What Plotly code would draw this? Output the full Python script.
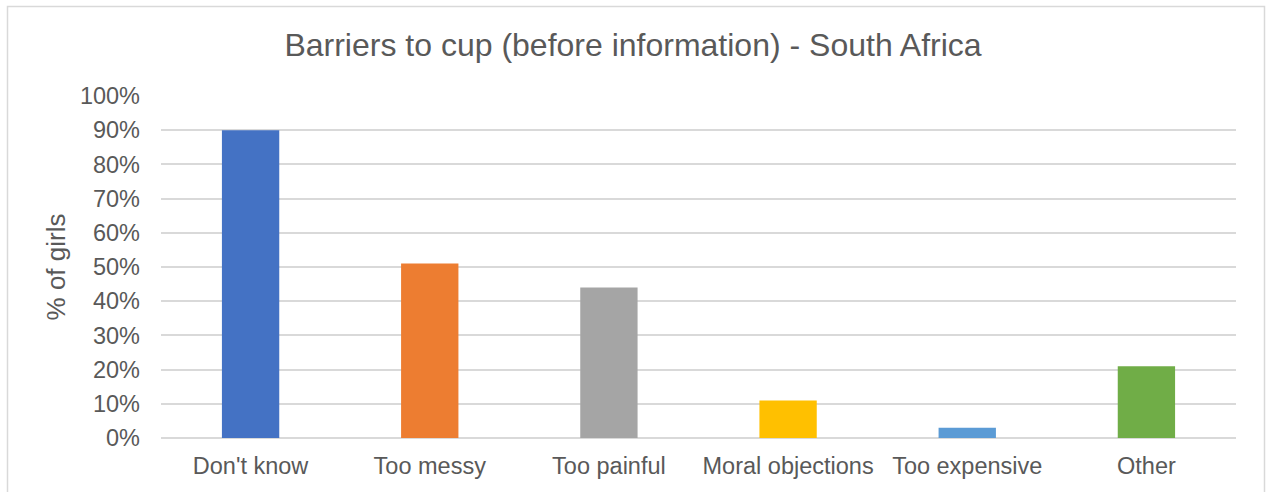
import plotly.graph_objects as go

# Survey results: reasons girls gave for not using a menstrual cup
categories = ["Don't know", "Too messy", "Too painful", "Moral objections", "Too expensive", "Other"]
share_of_girls = [0.90, 0.51, 0.44, 0.11, 0.03, 0.21]
bar_colors = ["#4472C4", "#ED7D31", "#A5A5A5", "#FFC000", "#5B9BD5", "#70AD47"]

TEXT = "#595959"
GRID = "#D9D9D9"
FONT = "Liberation Sans, Arial, sans-serif"

W, H = 1266, 492
ML, MR, MT, MB = 161, 30, 96, 54
PW, PH = W - ML - MR, H - MT - MB

fig = go.Figure(
    go.Bar(
        x=categories,
        y=share_of_girls,
        marker=dict(color=bar_colors, line=dict(width=0)),
        hoverinfo="x+y",
    )
)

# outer chart border (paper coords relative to plot area)
def px_x(p):
    return (p - ML) / PW

def px_y(p):
    return 1 - (p - MT) / PH

fig.add_shape(
    type="rect", xref="paper", yref="paper",
    x0=px_x(7.5), x1=px_x(1264.5), y0=px_y(560), y1=px_y(6.5),
    line=dict(color=GRID, width=1.5), fillcolor="rgba(0,0,0,0)", layer="below",
)

fig.update_layout(
    width=W, height=H,
    margin=dict(l=ML, r=MR, t=MT, b=MB, autoexpand=False),
    paper_bgcolor="white", plot_bgcolor="white",
    font=dict(family=FONT, color=TEXT, size=23.5),
    title=dict(
        text="Barriers to cup (before information) - South Africa",
        font=dict(family=FONT, size=32, color=TEXT),
        x=0.5, xref="container", xanchor="center",
        y=1 - 45 / H, yref="container", yanchor="middle",
    ),
    bargap=0.68,
    showlegend=False,
    xaxis=dict(
        showgrid=False, showline=False, zeroline=False, ticks="",
        tickfont=dict(family=FONT, size=23.5, color=TEXT),
        ticklabelstandoff=11,
    ),
    yaxis=dict(
        range=[0, 1], dtick=0.1, tickformat=".0%",
        showgrid=True, gridcolor=GRID, gridwidth=1.7,
        zeroline=True, zerolinecolor=GRID, zerolinewidth=1.7,
        showline=False, ticks="",
        tickfont=dict(family=FONT, size=23.5, color=TEXT),
        ticklabelstandoff=20,
        title=dict(text="% of girls", font=dict(family=FONT, size=26, color=TEXT), standoff=6),
    ),
)

fig.write_html("out.html")
